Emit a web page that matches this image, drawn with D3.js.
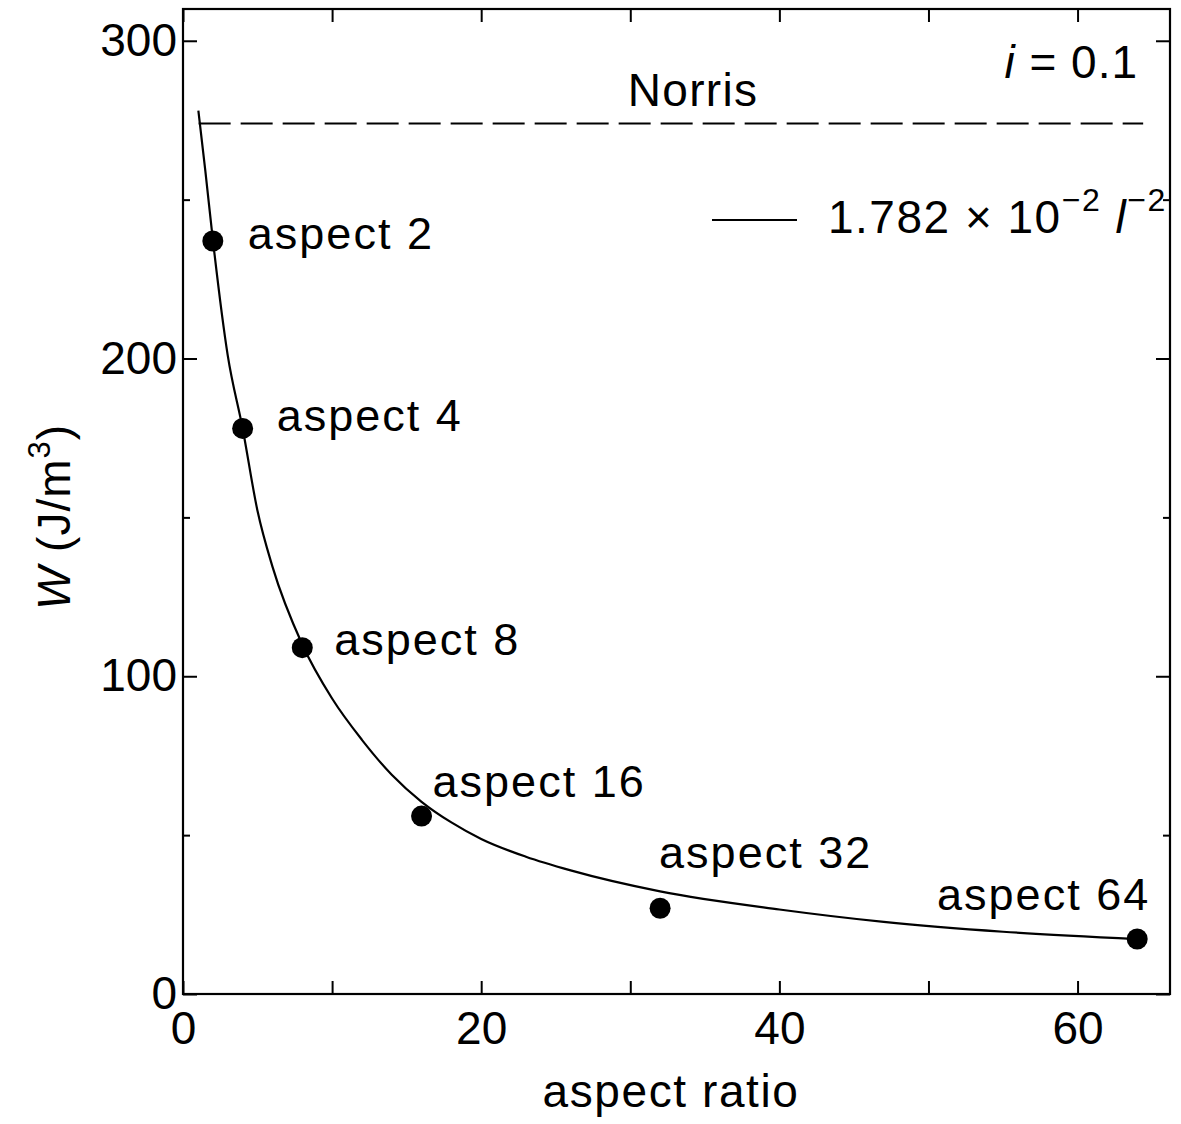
<!DOCTYPE html>
<html>
<head>
<meta charset="utf-8">
<script src="https://cdn.jsdelivr.net/npm/d3@7"></script>
<style>
  html, body { margin: 0; padding: 0; background: #fff; }
  svg { display: block; }
  text { font-family: "Liberation Sans", Arial, Helvetica, sans-serif; fill: #000; }
</style>
</head>
<body>
<script>
// ---------- data ----------
const aspects = [2, 4, 8, 16, 32, 64];
const wValues = [237, 178, 109, 56, 27, 17.3];
const pointLabels = ["aspect 2", "aspect 4", "aspect 8", "aspect 16", "aspect 32", "aspect 64"];

// fitted curve 1.782e-2 l^-2
const fitX = [1.03, 1.5, 2, 3, 4, 5, 6, 8, 10, 12, 14, 16, 18, 20, 23, 26, 32, 40, 47, 55, 64];
const fitW = [278, 259, 237.5, 201, 178, 152, 134.5, 110, 93, 80, 69, 60.5, 54, 48.8, 43.2, 38.9, 32.3, 26.6, 22.7, 19.6, 17.3];

const norrisW = 274;
const norrisX = [1.05, 64.4];

const xTicks = [0, 10, 20, 30, 40, 50, 60];
const xTickLabels = ["0", "", "20", "", "40", "", "60"];
const yMajorTicks = [0, 100, 200, 300];
const yMinorTicks = [50, 150, 250];

const xTitle = "aspect ratio";
const norrisLabel = "Norris";

// ---------- layout ----------
const W = 1181, H = 1124;
const L = 183, R = 1170, T = 9, B = 994;

const svg = d3.select("body").append("svg").attr("width", W).attr("height", H);

const x = d3.scaleLinear().domain([0, 66.2]).range([L, R]);
const y = d3.scaleLinear().domain([0, 310]).range([B, T]);

const fontMain = 46;

// axes
const gx = svg.append("g").attr("transform", `translate(0,${B})`)
  .call(d3.axisBottom(x).tickValues(xTicks).tickSizeInner(-13).tickSizeOuter(0).tickPadding(17)
    .tickFormat((d, i) => xTickLabels[i]));
const gxTop = svg.append("g").attr("transform", `translate(0,${T})`)
  .call(d3.axisTop(x).tickValues(xTicks).tickSizeInner(-13).tickSizeOuter(0).tickFormat(""));
const gy = svg.append("g").attr("transform", `translate(${L},0)`)
  .call(d3.axisLeft(y).tickValues(yMajorTicks).tickSizeInner(-14).tickSizeOuter(0).tickPadding(6).tickFormat(d3.format("d")));
const gyMin = svg.append("g").attr("transform", `translate(${L},0)`)
  .call(d3.axisLeft(y).tickValues(yMinorTicks).tickSizeInner(-7).tickSizeOuter(0).tickFormat(""));
const gyR = svg.append("g").attr("transform", `translate(${R},0)`)
  .call(d3.axisRight(y).tickValues(yMajorTicks).tickSizeInner(-14).tickSizeOuter(0).tickFormat(""));
const gyRMin = svg.append("g").attr("transform", `translate(${R},0)`)
  .call(d3.axisRight(y).tickValues(yMinorTicks).tickSizeInner(-7).tickSizeOuter(0).tickFormat(""));

[gx, gxTop, gy, gyMin, gyR, gyRMin].forEach(g => {
  g.select(".domain").remove();
  g.selectAll("line").attr("stroke", "#000").attr("stroke-width", 2);
  g.selectAll("text").attr("font-size", fontMain)
    .attr("font-family", '"Liberation Sans", Arial, Helvetica, sans-serif').attr("fill", "#000");
});

// frame
svg.append("rect").attr("x", L).attr("y", T).attr("width", R - L).attr("height", B - T)
  .attr("fill", "none").attr("stroke", "#000").attr("stroke-width", 2.2);

// Norris dashed line
svg.append("line")
  .attr("x1", x(norrisX[0])).attr("x2", x(norrisX[1]))
  .attr("y1", y(norrisW)).attr("y2", y(norrisW))
  .attr("stroke", "#000").attr("stroke-width", 2).attr("stroke-dasharray", "32,10");

svg.append("text").attr("x", 693).attr("y", y(norrisW) - 17)
  .attr("text-anchor", "middle").attr("font-size", fontMain).attr("letter-spacing", 1.3)
  .text(norrisLabel);

// fit curve
const fitData = fitX.map((v, i) => [v, fitW[i]]);
svg.append("path").datum(fitData)
  .attr("fill", "none").attr("stroke", "#000").attr("stroke-width", 2.2)
  .attr("d", d3.line().x(d => x(d[0])).y(d => y(d[1])).curve(d3.curveMonotoneX));

// points
const pts = aspects.map((a, i) => ({ a, w: wValues[i], label: pointLabels[i] }));
svg.append("g").selectAll("circle").data(pts).join("circle")
  .attr("cx", d => x(d.a)).attr("cy", d => y(d.w)).attr("r", 10.5).attr("fill", "#000");

// point labels (offsets are layout only)
const labelOffsets = [
  { dx: 35, dy: 8, anchor: "start" },
  { dx: 34, dy: 3, anchor: "start" },
  { dx: 32, dy: 7, anchor: "start" },
  { dx: 11, dy: -19, anchor: "start" },
  { dx: -1, dy: -40, anchor: "start" },
  { dx: 13, dy: -29, anchor: "end" }
];
svg.append("g").selectAll("text").data(pts).join("text")
  .attr("x", (d, i) => x(d.a) + labelOffsets[i].dx)
  .attr("y", (d, i) => y(d.w) + labelOffsets[i].dy)
  .attr("text-anchor", (d, i) => labelOffsets[i].anchor)
  .attr("font-size", 45).attr("letter-spacing", 2)
  .text(d => d.label);

// i = 0.1
const iText = svg.append("text").attr("x", 1138).attr("y", 78)
  .attr("text-anchor", "end").attr("font-size", fontMain).attr("letter-spacing", 1);
iText.append("tspan").attr("font-style", "italic").text("i");
iText.append("tspan").text(" = 0.1");

// legend
svg.append("line").attr("x1", 712).attr("x2", 797).attr("y1", 220).attr("y2", 220)
  .attr("stroke", "#000").attr("stroke-width", 2);
const lg = svg.append("text").attr("x", 828).attr("y", 233).attr("font-size", fontMain).attr("letter-spacing", 1.5);
lg.append("tspan").text("1.782 \u00d7 10");
lg.append("tspan").attr("font-size", 32).attr("dy", -22).text("\u22122");
lg.append("tspan").attr("dy", 22).text(" ");
lg.append("tspan").attr("font-style", "italic").text("l");
lg.append("tspan").attr("font-size", 32).attr("dy", -22).text("\u22122");

// x title
svg.append("text").attr("x", 671).attr("y", 1107).attr("text-anchor", "middle")
  .attr("font-size", fontMain).attr("letter-spacing", 1.6).text(xTitle);

// y title
const yt = svg.append("text").attr("transform", "translate(70,517) rotate(-90)")
  .attr("text-anchor", "middle").attr("font-size", fontMain).attr("letter-spacing", 1);
yt.append("tspan").attr("font-style", "italic").text("W");
yt.append("tspan").text(" (J/m");
yt.append("tspan").attr("font-size", 31).attr("dy", -20).text("3");
yt.append("tspan").attr("dy", 20).text(")");
</script>
</body>
</html>
